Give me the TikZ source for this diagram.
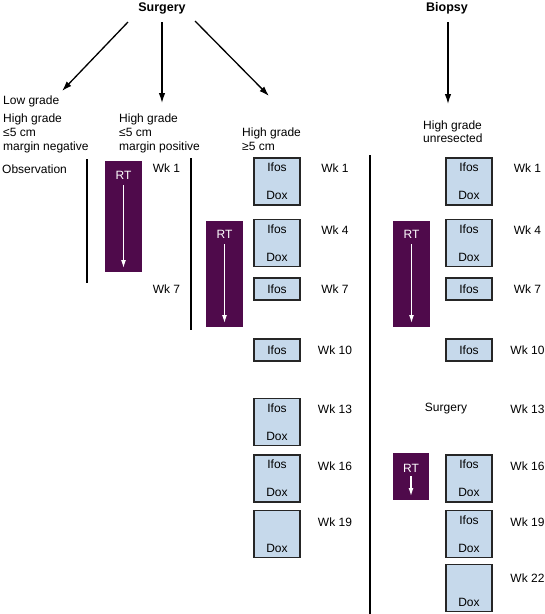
\documentclass[tikz,border=0pt]{standalone}
\usepackage{fontspec}
\setmainfont{Liberation Sans}
\usetikzlibrary{arrows.meta}
\definecolor{chemo}{HTML}{C6D9EB}
\definecolor{rtpurple}{HTML}{4F0A4B}
\tikzset{
  lbl/.style={inner sep=0pt, anchor=base west, font=\fontsize{12}{14}\selectfont},
  wk/.style={inner sep=0pt, anchor=base, font=\fontsize{12}{14}\selectfont},
  head/.style={inner sep=0pt, anchor=base, font=\bfseries\fontsize{12.5}{14}\selectfont},
  dbox/.style={draw=black!85, line width=1.3pt, fill=chemo, minimum width=46pt, minimum height=47pt, inner sep=0pt},
  sbox/.style={draw=black!85, line width=1.3pt, fill=chemo, minimum width=46pt, minimum height=22pt, inner sep=0pt},
  drug/.style={inner sep=0pt, font=\fontsize{12}{14}\selectfont},
  rtbox/.style={fill=rtpurple, draw=none, inner sep=0pt},
  rttxt/.style={inner sep=0pt, text=white, font=\fontsize{12}{14}\selectfont},
  arr/.style={line width=1.3pt, -{Latex[length=10pt,width=6.5pt]}},
  warr/.style={white, line width=1.2pt, -{Latex[length=8pt,width=5pt]}},
  vline/.style={line width=1.4pt}
}
\begin{document}
\begin{tikzpicture}[x=1pt,y=-1pt]
\useasboundingbox (0,0) rectangle (545,614);

% headings
\node[head] (surg) at (162,11.5) {Surgery};
\node[head] (biop) at (447,11.5) {Biopsy};

% arrow ends
\coordinate (s1a) at (128,22); \coordinate (s1b) at (62,91);
\coordinate (s2a) at (162,22); \coordinate (s2b) at (162,103);
\coordinate (s3a) at (195,21); \coordinate (s3b) at (269,96);
\coordinate (b1a) at (448,22); \coordinate (b1b) at (448,104);
\draw[arr] (s1a) -- (s1b);
\draw[arr] (s2a) -- (s2b);
\draw[arr] (s3a) -- (s3b);
\draw[arr] (b1a) -- (b1b);

% group labels
\node[lbl] (lg) at (3,104) {Low grade};
\node[lbl] (g1a) at (3,122) {High grade};
\node[lbl] (g1b) at (3,136) {≤5 cm};
\node[lbl] (g1c) at (3,150) {margin negative};
\node[lbl] (g2a) at (119,122) {High grade};
\node[lbl] (g2b) at (119,136) {≤5 cm};
\node[lbl] (g2c) at (119,150) {margin positive};
\node[lbl] (g3a) at (242,136) {High grade};
\node[lbl] (g3b) at (242,150) {≥5 cm};
\node[lbl] (g4a) at (423,129) {High grade};
\node[lbl] (g4b) at (423,142) {unresected};

% column 1
\node[lbl] (obs) at (2,173) {Observation};
\coordinate (v1a) at (87,159); \coordinate (v1b) at (87,283);
\draw[vline] (v1a) -- (v1b);

% column 2
\node[rtbox, minimum width=37pt, minimum height=111pt] (rt1) at (123.5,216.5) {};
\node[rttxt] (rt1t) at (123.5,175) {RT};
\coordinate (rt1a) at (123.5,185); \coordinate (rt1b) at (123.5,268);
\draw[warr] (rt1a) -- (rt1b);
\node[wk] (c2w1) at (166.5,172) {Wk 1};
\node[wk] (c2w7) at (166.5,293) {Wk 7};
\coordinate (v2a) at (191,158); \coordinate (v2b) at (191,330);
\draw[vline] (v2a) -- (v2b);

% column 3
\node[rtbox, minimum width=37pt, minimum height=106pt] (rt2) at (224.5,274) {};
\node[rttxt] (rt2t) at (224.5,234) {RT};
\coordinate (rt2a) at (224.5,244); \coordinate (rt2b) at (224.5,323);
\draw[warr] (rt2a) -- (rt2b);

\node[dbox] (c3b1) at (277,181.5) {};
\node[drug] at ([yshift=-10pt]c3b1.north) {Ifos};
\node[drug] at ([yshift=10pt]c3b1.south) {Dox};
\node[dbox] (c3b4) at (277,243) {};
\node[drug] at ([yshift=-10pt]c3b4.north) {Ifos};
\node[drug] at ([yshift=10pt]c3b4.south) {Dox};
\node[sbox] (c3b7) at (277,289) {};
\node[drug] at (c3b7.center) {Ifos};
\node[sbox] (c3b10) at (277,350) {};
\node[drug] at (c3b10.center) {Ifos};
\node[dbox] (c3b13) at (277,422) {};
\node[drug] at ([yshift=-10pt]c3b13.north) {Ifos};
\node[drug] at ([yshift=10pt]c3b13.south) {Dox};
\node[dbox] (c3b16) at (277,478.5) {};
\node[drug] at ([yshift=-10pt]c3b16.north) {Ifos};
\node[drug] at ([yshift=10pt]c3b16.south) {Dox};
\node[dbox] (c3b19) at (277,534) {};
\node[drug] at ([yshift=10pt]c3b19.south) {Dox};

\node[wk] (c3w1) at (335,172) {Wk 1};
\node[wk] (c3w4) at (335,234) {Wk 4};
\node[wk] (c3w7) at (335,293) {Wk 7};
\node[wk] (c3w10) at (335,354) {Wk 10};
\node[wk] (c3w13) at (335,413) {Wk 13};
\node[wk] (c3w16) at (335,470) {Wk 16};
\node[wk] (c3w19) at (335,526) {Wk 19};

% divider
\coordinate (v3a) at (370,155); \coordinate (v3b) at (370,614);
\draw[vline] (v3a) -- (v3b);

% column 4
\node[rtbox, minimum width=37pt, minimum height=106pt] (rt3) at (411.5,274) {};
\node[rttxt] (rt3t) at (411.5,234) {RT};
\coordinate (rt3a) at (411.5,244); \coordinate (rt3b) at (411.5,323);
\draw[warr] (rt3a) -- (rt3b);
\node[rtbox, minimum width=36pt, minimum height=47pt] (rt4) at (411,476.5) {};
\node[rttxt] (rt4t) at (411,468) {RT};
\coordinate (rt4a) at (411,476); \coordinate (rt4b) at (411,496);
\draw[warr] (rt4a) -- (rt4b);

\node[dbox] (c4b1) at (469,181.5) {};
\node[drug] at ([yshift=-10pt]c4b1.north) {Ifos};
\node[drug] at ([yshift=10pt]c4b1.south) {Dox};
\node[dbox] (c4b4) at (469,243) {};
\node[drug] at ([yshift=-10pt]c4b4.north) {Ifos};
\node[drug] at ([yshift=10pt]c4b4.south) {Dox};
\node[sbox] (c4b7) at (469,289) {};
\node[drug] at (c4b7.center) {Ifos};
\node[sbox] (c4b10) at (469,350) {};
\node[drug] at (c4b10.center) {Ifos};
\node[drug] (c4surg) at (446,409) {Surgery};
\node[dbox] (c4b16) at (469,478.5) {};
\node[drug] at ([yshift=-10pt]c4b16.north) {Ifos};
\node[drug] at ([yshift=10pt]c4b16.south) {Dox};
\node[dbox] (c4b19) at (469,534) {};
\node[drug] at ([yshift=-10pt]c4b19.north) {Ifos};
\node[drug] at ([yshift=10pt]c4b19.south) {Dox};
\node[dbox] (c4b22) at (469,588) {};
\node[drug] at ([yshift=10pt]c4b22.south) {Dox};

\node[wk] (c4w1) at (527.5,172) {Wk 1};
\node[wk] (c4w4) at (527.5,234) {Wk 4};
\node[wk] (c4w7) at (527.5,293) {Wk 7};
\node[wk] (c4w10) at (527.5,354) {Wk 10};
\node[wk] (c4w13) at (527.5,413) {Wk 13};
\node[wk] (c4w16) at (527.5,470) {Wk 16};
\node[wk] (c4w19) at (527.5,526) {Wk 19};
\node[wk] (c4w22) at (527.5,582) {Wk 22};
\end{tikzpicture}
\end{document}
